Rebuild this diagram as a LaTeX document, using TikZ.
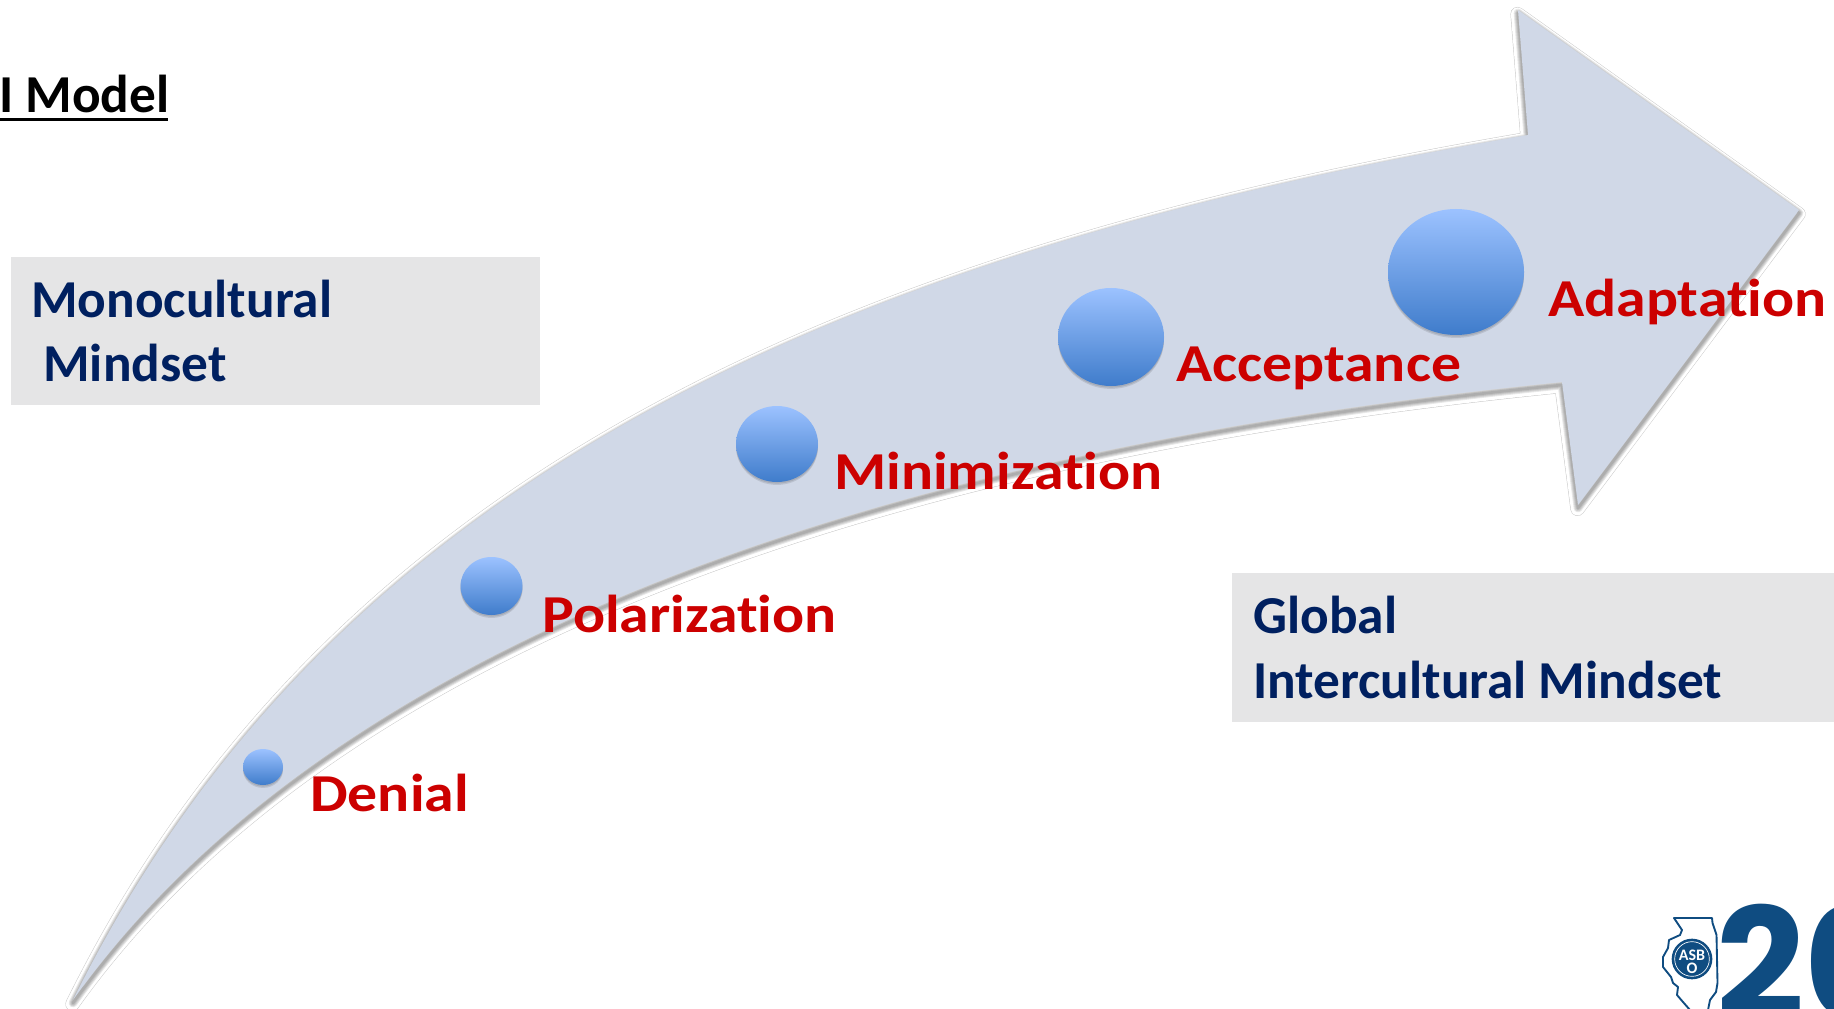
\documentclass[tikz,border=0pt]{standalone}
\usepackage{fontspec}
\setmainfont{Carlito}[Ligatures=NoCommon]
\newfontfamily\stagefont{Carlito}[Ligatures=NoCommon,FakeStretch=1.12]
\newfontfamily\logofont{Poppins}
\usetikzlibrary{shapes.geometric}
\definecolor{navy}{HTML}{002060}
\definecolor{boxgray}{HTML}{E5E5E6}
\definecolor{arrowfill}{HTML}{D0D8E7}
\definecolor{labelred}{HTML}{CC0000}
\definecolor{ballhi}{HTML}{9CC2FF}
\definecolor{balllo}{HTML}{3F7CCB}
\definecolor{logoblue}{HTML}{0F4C81}
\definecolor{logopink}{HTML}{E0148C}
\newcommand{\arrowshape}{(73,1000) .. controls (325,490) and (820,255) .. (1528,135) -- (1518,10) -- (1799,210) -- (1578,505) -- (1562,382) .. controls (880,450) and (330,640) .. (73,1000) -- cycle}
\tikzset{
  x=.75pt,y=-.75pt,
  ball/.style={ellipse,inner sep=0pt,top color=ballhi,bottom color=balllo,
    preaction={draw=none,fill=black,fill opacity=.10,transform canvas={yshift=-2.2pt}},
    preaction={draw=none,fill=black,fill opacity=.10,transform canvas={yshift=-1.2pt}}},
  stagelabel/.style={anchor=base west,inner sep=0pt,text=labelred,font=\stagefont\fontsize{40}{48}\selectfont\bfseries},
  boxtext/.style={anchor=base west,inner sep=0pt,text=navy,font=\fontsize{40}{48}\selectfont\bfseries},
  greybox/.style={fill=boxgray,draw=none},
  edgeglow/.style={line join=round,draw=black,draw opacity=.09,shift={(0,3)}}
}
\begin{document}
\begin{tikzpicture}
\useasboundingbox (0,0) rectangle (1834,1009);
\clip (0,0) rectangle (1834,1009);
\fill[white] (0,0) rectangle (1834,1009);
% boxes
\fill[greybox] (11,257) rectangle (540,405);
\fill[greybox] (1232,573) rectangle (1834,722);
% arrow with its soft shadow and thin outline
\draw[line join=round,line width=10.6pt,draw=black!22,shift={(-.5,4)}] \arrowshape;
\draw[line join=round,line width=9.9pt,draw=white,shift={(-.5,4)}] \arrowshape;
\draw[edgeglow,line width=6.5pt] \arrowshape;
\draw[edgeglow,line width=5pt] \arrowshape;
\draw[edgeglow,line width=3.5pt] \arrowshape;
\draw[edgeglow,line width=2pt] \arrowshape;
\fill[arrowfill] \arrowshape;
% spheres
\node[ball,minimum width=30pt,minimum height=27pt] (b1) at (263,767) {};
\node[ball,minimum width=46.5pt,minimum height=43.5pt] (b2) at (491.5,586) {};
\node[ball,minimum width=61.5pt,minimum height=57pt] (b3) at (777,444) {};
\node[ball,minimum width=79.5pt,minimum height=73.5pt] (b4) at (1111,337) {};
\node[ball,minimum width=102pt,minimum height=94.5pt] (b5) at (1456,272) {};
% labels
\node[stagelabel] (l1) at (310,811) {Denial};
\node[stagelabel] (l2) at (542,632) {Polarization};
\node[stagelabel] (l3) at (834,489) {Minimization};
\node[stagelabel] (l4) at (1176,381) {Acceptance};
\node[stagelabel] (l5) at (1548,316) {Adaptation};
% box text
\node[boxtext] (t1) at (31,317.5) {Monocultural};
\node[boxtext] (t2) at (43,381.5) {Mindset};
\node[boxtext] (t3) at (1253,633.5) {Global};
\node[boxtext] (t4) at (1253,698.5) {Intercultural Mindset};
% title
\node[anchor=base west,inner sep=0pt,font=\fontsize{40}{48}\selectfont\bfseries] (title) at (-1,113) {I Model};
\fill[black] (0,118.5) rectangle (168,121.5);
% logo
\draw[logoblue,line width=1.4pt,line join=round,fill=white]
  (1674,918) -- (1712,918) -- (1712.5,923) -- (1716.5,935) -- (1717.5,983) -- (1716,992) -- (1710,1000) -- (1708,1010)
  -- (1690,1010) -- (1683,1002) -- (1677,995) -- (1678,987) -- (1673,983) -- (1671,977) -- (1663,967) -- (1663,957)
  -- (1668,948) -- (1669,940) -- (1680,935) -- (1682,930) -- cycle;
\node[circle,fill=logoblue,minimum size=30.5pt,inner sep=0pt] (seal) at (1692,959) {};
\node[circle,draw=white,line width=.5pt,minimum size=26pt,inner sep=0pt] (sealring) at (1692,959) {};
\node[text=white,inner sep=0pt,font=\fontsize{12}{12}\selectfont\bfseries] (sealtext) at (1692,955) {ASB};
\node[text=white,inner sep=0pt,font=\fontsize{12}{12}\selectfont\bfseries] (sealo) at (1692,968) {O};
\fill[logopink] (1831,970) rectangle (1834,978);
\node[anchor=base west,inner sep=0pt,text=logoblue,font=\logofont\bfseries\fontsize{116}{116}\selectfont] (year) at (1716,1019) {20};
\end{tikzpicture}
\end{document}
